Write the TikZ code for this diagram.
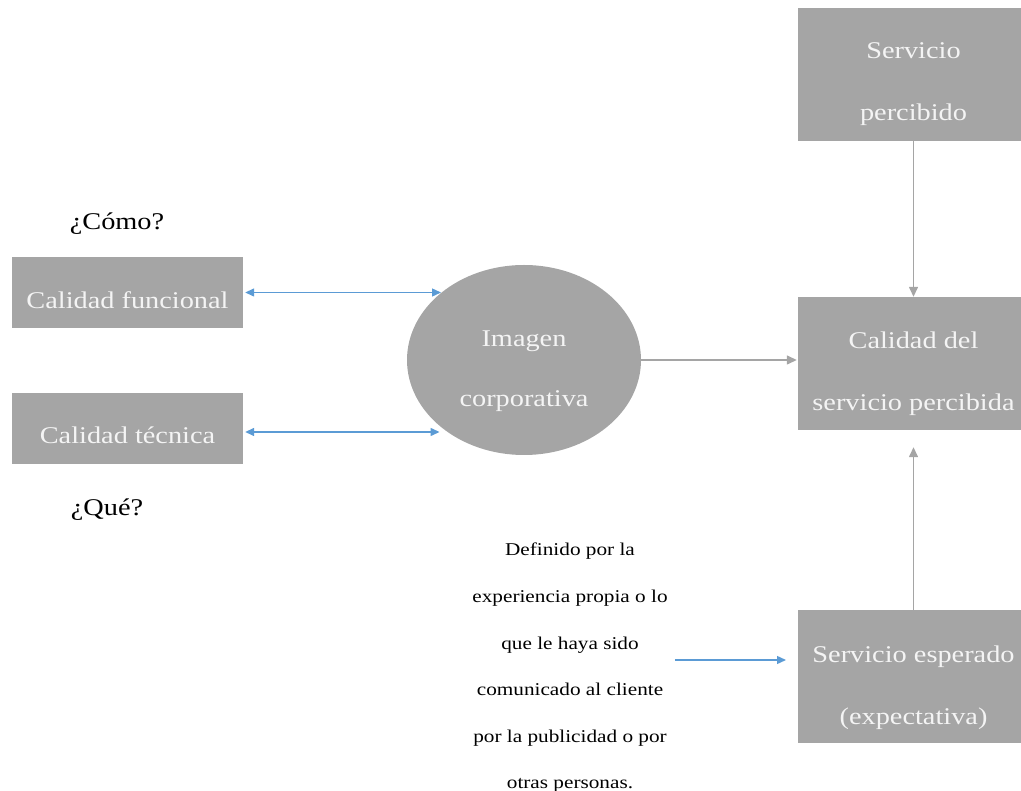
\documentclass[tikz,border=0pt]{standalone}
\usepackage{fontspec}
\setmainfont{Liberation Serif}[FakeStretch=1.18]
\usetikzlibrary{shapes.geometric,arrows.meta}
\definecolor{boxgray}{HTML}{A5A5A5}
\definecolor{txtwhite}{HTML}{F4F4F4}
\definecolor{arrblue}{HTML}{5B9BD5}
\definecolor{arrgray}{HTML}{A5A5A5}
\tikzset{
  graybox/.style={fill=boxgray, draw=none, inner sep=0pt},
  boxtext/.style={text=txtwhite, align=center, inner sep=0pt, font=\fontsize{24}{62}\selectfont},
  bluearr/.style={draw=arrblue, line width=1.4pt, -{Triangle[length=9pt,width=8pt]}},
  bluedbl/.style={draw=arrblue, line width=1.4pt, {Triangle[length=9pt,width=8pt]}-{Triangle[length=9pt,width=8pt]}},
  grayarr/.style={draw=arrgray, line width=1.4pt, -{Triangle[length=10pt,width=9pt]}},
  plain/.style={text=black, inner sep=0pt, font=\fontsize{24}{28}\selectfont},
}
\begin{document}
\begin{tikzpicture}[x=1pt,y=-1pt]
\useasboundingbox (0,0) rectangle (1021,791);
\clip (0,0) rectangle (1021,791);
% boxes
\node[graybox, minimum width=231pt, minimum height=133pt,
  label={[boxtext, yshift=-10pt]center:{Servicio\\percibido}}] (sp) at (913.5,74.5) {};
\node[graybox, minimum width=231pt, minimum height=133pt,
  label={[boxtext, yshift=-10pt]center:{Calidad del\\servicio percibida}}] (cs) at (913.5,363.5) {};
\node[graybox, minimum width=231pt, minimum height=133pt,
  label={[boxtext, yshift=-11pt]center:{Servicio esperado\\(expectativa)}}] (se) at (913.5,676.5) {};
\node[graybox, minimum width=231pt, minimum height=71pt,
  label={[boxtext, yshift=-8pt]center:{Calidad funcional}}] (cf) at (127.5,292.5) {};
\node[graybox, minimum width=231pt, minimum height=71pt,
  label={[boxtext, yshift=-7pt]center:{Calidad técnica}}] (ct) at (127.5,428.5) {};
\node[ellipse, fill=boxgray, inner sep=0pt, minimum width=234pt, minimum height=190pt,
  label={[boxtext, font=\fontsize{24}{60}\selectfont, yshift=-11pt]center:{Imagen\\corporativa}}] (img) at (524,360) {};
% labels
\node[plain] (como) at (117,224) {¿Cómo?};
\node[plain] (que) at (107,510) {¿Qué?};
\node[text=black, align=center, inner sep=0pt, font=\fontsize{18}{46.6}\selectfont] (def) at (570,668)
  {Definido por la\\experiencia propia o lo\\que le haya sido\\comunicado al cliente\\por la publicidad o por\\otras personas.};
% connectors
\draw[bluedbl] ([xshift=2pt]cf.east) -- (cf.east -| img.141);
\draw[bluedbl] ([xshift=2pt,yshift=-3.5pt]ct.east) -- ([yshift=-3.5pt]ct.east -| img.218);
\draw[grayarr] (img.east) -- ([xshift=-1pt]img.east -| cs.west);
\draw[grayarr] (sp.south) -- (cs.north);
\draw[grayarr] (se.north) -- ([yshift=-17pt]cs.south);
\coordinate (setip) at (786,660);
\draw[bluearr] (def.east |- setip) ++(7pt,0) -- (setip);
\end{tikzpicture}
\end{document}
